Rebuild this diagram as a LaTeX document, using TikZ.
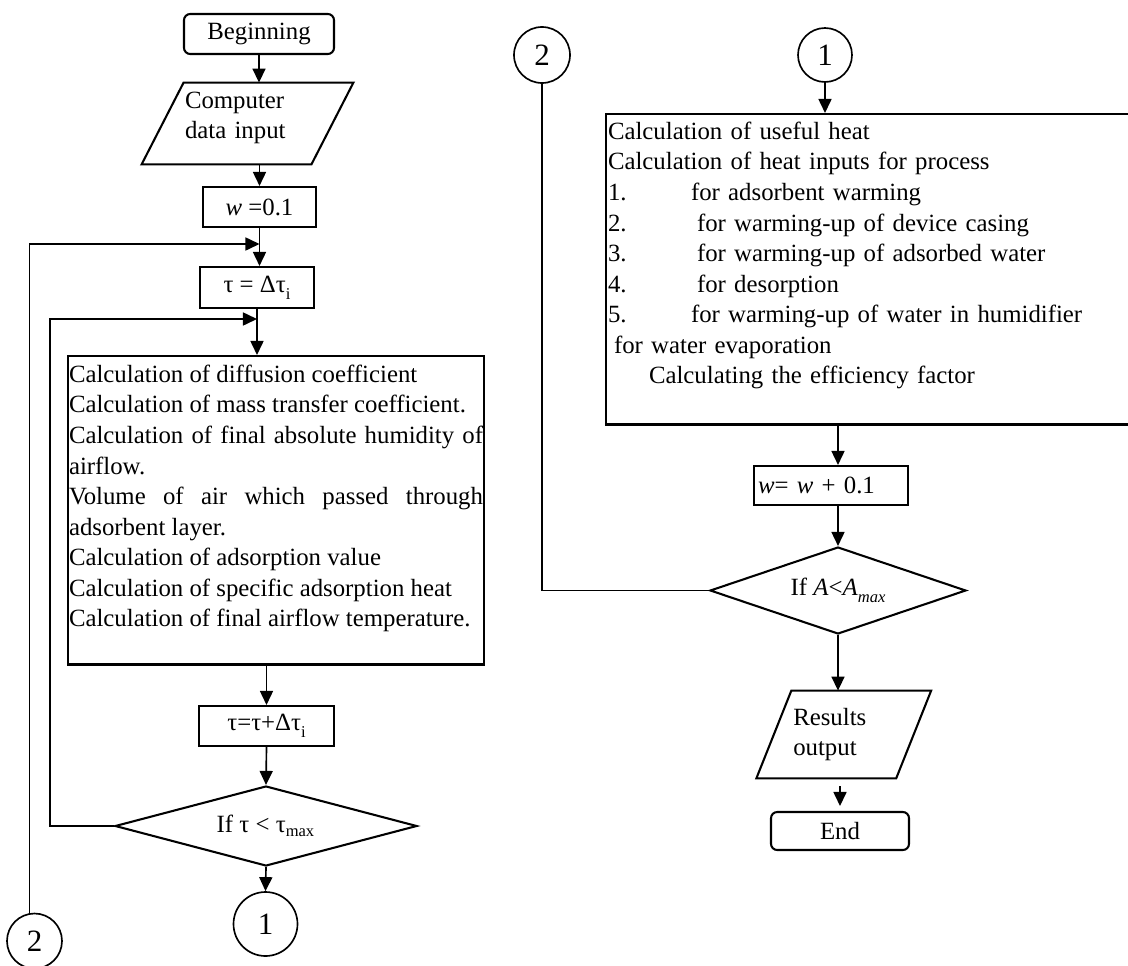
\documentclass[tikz,border=0pt]{standalone}
\usepackage{fontspec}
\setmainfont{Liberation Serif}
\usepackage{tikz}
\usetikzlibrary{arrows.meta,shapes.geometric}
\newlength\pxl
\setlength\pxl{0.4839pt}
\hyphenpenalty=10000
\exhyphenpenalty=10000
\newcommand{\lowsub}[1]{\raisebox{-3.5pt}{\fontsize{8pt}{8pt}\selectfont #1}}

\begin{document}
\begin{tikzpicture}[x=0.4839pt, y=-0.4839pt,
    font=\fontsize{12pt}{14.76pt}\selectfont,
    blk/.style={draw, line width=1pt},
    proc/.style 2 args={blk, minimum width=#1*\pxl, minimum height=#2*\pxl, inner sep=0pt},
    term/.style 2 args={proc={#1}{#2}, rounded corners=3pt},
    dec/.style 2 args={diamond, blk, aspect=3, inner sep=0pt,
                       minimum width=#1*\pxl, minimum height=#2*\pxl},
    io/.style 2 args={minimum width=#1*\pxl, minimum height=#2*\pxl, inner ysep=0pt, align=left},
    conn/.style={circle, draw, line width=0.8pt, minimum size=#1*\pxl, inner sep=0pt,
                 font=\fontsize{15pt}{17pt}\selectfont},
    arr/.style={line width=0.8pt, -{Triangle[length=6.8pt,width=6.3pt]}},
    lnk/.style={line width=0.8pt}]
  \useasboundingbox (0,0) rectangle (1128,965);
  \clip (0,0) rectangle (1128,965);

  % left column
  \node[term={150}{40}] (beg) at (259,34) {Beginning};
  \node[io={169}{81}, text width=125*\pxl, inner xsep=22*\pxl] (in1) at (247.5,123.5)
       {Computer\\data input\rule[-8pt]{0pt}{8pt}};
  \draw[blk] ([xshift=-21*\pxl]in1.south west) -- ([xshift=21*\pxl]in1.north west)
          -- ([xshift=21*\pxl]in1.north east) -- ([xshift=-21*\pxl]in1.south east) -- cycle;
  \node[proc={113}{40}] (w0) at (259.5,207) {\textit{w} =0.1};
  \node[proc={114}{41}] (tau) at (257,287.5) {τ = Δτ\lowsub{i}};
  \node[blk, anchor=north west, text width=414*\pxl, inner xsep=1*\pxl, inner ysep=9*\pxl,
        align=justify] (calc) at (67,355)
       {Calculation of diffusion coefficient\par
        Calculation of mass transfer coefficient.\par
        Calculation of final absolute humidity of airflow.\par
        Volume of air which passed through adsorbent layer.\par
        Calculation of adsorption value\par
        Calculation of specific adsorption heat\par
        Calculation of final airflow temperature.\rule[-29\pxl]{0pt}{29\pxl}};
  \node[proc={135}{40}] (tau2) at (266.5,726) {τ=τ+Δτ\lowsub{i}};
  \node[dec={302}{80}] (dec1) at (266,826) {If τ < τ\textsubscript{max}};
  \node[conn=64] (c1b) at (265.5,924) {1};
  \node[conn=55] (c2b) at (34.5,941) {2};

  % right column
  \node[conn=56] (c2t) at (542,55) {2};
  \node[conn=54] (c1t) at (825,55) {1};
  \node[blk, anchor=north west, text width=540*\pxl, inner xsep=2*\pxl, inner ysep=8*\pxl,
        align=left] (heat) at (605,113)
       {Calculation of useful heat\\
        Calculation of heat inputs for process\\
        \makebox[83\pxl][l]{1.}for adsorbent warming\\
        \makebox[89\pxl][l]{2.}for warming-up of device casing\\
        \makebox[89\pxl][l]{3.}for warming-up of adsorbed water\\
        \makebox[89\pxl][l]{4.}for desorption\\
        \makebox[83\pxl][l]{5.}for warming-up of water in humidifier\\
        \hspace*{6\pxl}for water evaporation\\
        \hspace*{41\pxl}Calculating the efficiency factor\rule[-33\pxl]{0pt}{33\pxl}};
  \node[proc={154}{39}, text width=146*\pxl, inner xsep=4*\pxl, align=left] (w1) at (831,485.5)
       {\textit{w}= \textit{w} + 0.1};
  \node[dec={256}{87}] (dec2) at (838,590.5)
       {If \textit{A}<\textit{A}\lowsub{\textit{max}}};
  \node[io={139}{87}, text width=101*\pxl, inner xsep=19*\pxl] (out) at (843.75,734.5)
       {Results\\output};
  \draw[blk] ([xshift=-17.5*\pxl]out.south west) -- ([xshift=17.5*\pxl]out.north west)
          -- ([xshift=17.5*\pxl]out.north east) -- ([xshift=-17.5*\pxl]out.south east) -- cycle;
  \node[term={138}{38}] (fin) at (840,831) {End};

  % connectors
  \coordinate (j1) at (w0.south |- 0,244);
  \coordinate (j2) at (tau.south |- 0,319);
  \draw[arr] (beg.south) -- (beg.south |- in1.north);
  \draw[arr] (w0.north |- in1.south) -- (w0.north);
  \draw[arr] (w0.south) -- (w0.south |- tau.north);
  \draw[arr] (c2b.100) |- (j1);
  \draw[arr] (tau.south) -- (tau.south |- calc.north);
  \draw[arr] (dec1.west) -- ++(-64,0) |- (j2);
  \draw[arr] (tau2.north |- calc.south) -- (tau2.north);
  \draw[arr] (tau2.south) -- (dec1.north);
  \draw[arr] (dec1.south) -- (c1b.north);

  \draw[lnk] (c2t.south) |- (dec2.west);
  \draw[arr] (c1t.south) -- (c1t.south |- heat.north);
  \draw[arr] (dec2.north |- heat.south) -- (dec2.north |- w1.north);
  \draw[arr] (dec2.north |- w1.south) -- (dec2.north);
  \draw[arr] (dec2.south) -- (dec2.south |- out.north);
  \draw[arr, shorten <=3.9pt, shorten >=2.4pt] (fin.north |- out.south) -- (fin.north);
\end{tikzpicture}
\end{document}
